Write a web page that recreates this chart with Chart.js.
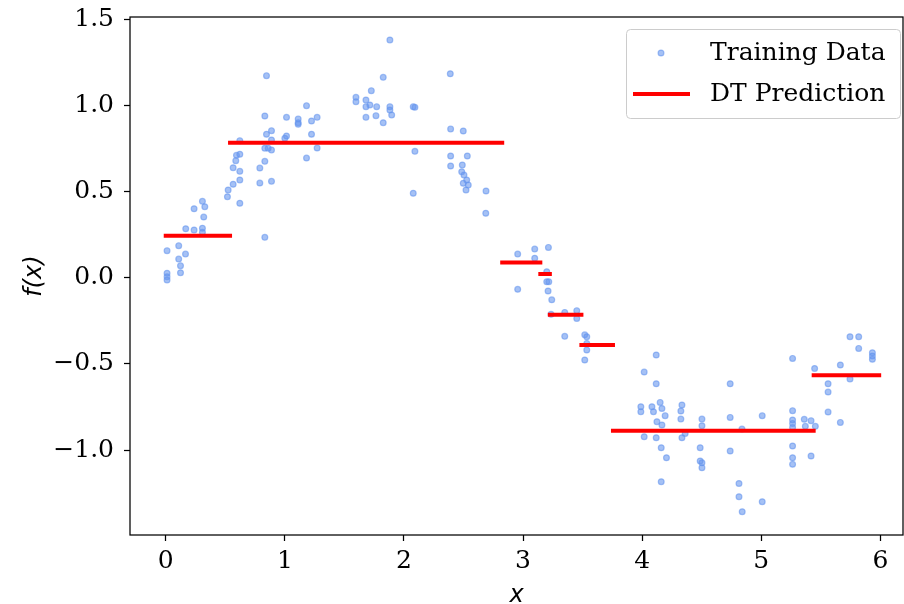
<!DOCTYPE html>
<html><head><meta charset="utf-8">
<script src="https://cdn.jsdelivr.net/npm/chart.js@4/dist/chart.umd.min.js"></script>
<style>html,body{margin:0;padding:0;background:#fff;overflow:hidden;} canvas{display:block;}</style>
</head><body>
<canvas id="c" width="904" height="604"></canvas>
<script>
// ---- data ----
const trainX = [
 0.011,0.011,0.011,0.011,0.109,0.109,0.124,0.124,0.166,0.168,0.238,0.238,0.308,0.308,0.308,0.328,0.319,
 0.518,0.524,0.566,0.622,0.622,0.566,0.588,0.594,0.622,0.622,0.622,
 0.790,0.790,0.832,0.832,0.860,0.888,0.888,0.888,0.846,0.832,0.846,0.888,0.832,
 1.000,1.014,1.014,1.112,1.112,1.112,1.182,1.224,1.271,1.224,1.271,1.182,
 1.597,1.597,1.681,1.681,1.714,1.771,1.681,1.765,1.826,1.726,1.826,1.882,1.882,1.882,1.897,
 2.078,2.092,2.092,2.078,
 2.389,2.392,2.498,2.392,2.532,2.392,2.490,2.485,2.504,2.527,2.498,2.540,2.521,2.689,2.687,
 2.955,3.098,3.213,3.098,2.955,3.199,3.199,3.216,3.210,3.241,3.235,3.350,3.451,3.451,3.350,
 3.518,3.535,3.535,3.535,3.518,
 4.017,4.118,4.118,3.989,3.989,4.082,4.095,4.151,4.166,4.124,4.193,4.166,4.334,4.325,4.325,
 4.017,4.118,4.334,4.361,4.160,4.204,4.160,4.502,4.502,4.487,4.487,4.502,4.502,
 4.739,4.739,4.739,4.838,4.813,4.813,4.840,5.008,5.008,
 5.263,5.263,5.263,5.263,5.263,5.361,5.418,5.454,5.370,5.263,5.263,5.263,5.418,
 5.448,5.561,5.561,5.561,5.664,5.664,5.745,5.745,5.818,5.818,5.933,5.933,5.933
];
const trainY = [
 0.026,0.006,-0.013,0.157,0.186,0.108,0.070,0.029,0.137,0.284,0.277,0.400,0.287,0.263,0.443,0.412,0.352,
 0.470,0.509,0.542,0.567,0.617,0.638,0.679,0.710,0.716,0.795,0.432,
 0.636,0.549,0.675,0.751,0.751,0.741,0.799,0.853,0.832,0.938,1.172,0.559,0.234,
 0.809,0.822,0.930,0.921,0.899,0.890,0.998,0.909,0.930,0.832,0.752,0.694,
 1.046,1.021,1.031,0.992,1.002,0.992,0.930,0.940,0.899,1.085,1.162,1.379,0.992,0.973,0.944,
 0.992,0.988,0.733,0.490,
 1.183,0.863,0.851,0.706,0.706,0.648,0.654,0.615,0.596,0.567,0.548,0.538,0.509,0.503,0.374,
 0.137,0.166,0.176,0.113,-0.067,0.035,-0.023,-0.023,-0.077,-0.128,-0.212,-0.201,-0.191,-0.236,-0.340,
 -0.331,-0.342,-0.381,-0.419,-0.477,
 -0.547,-0.448,-0.615,-0.748,-0.777,-0.748,-0.777,-0.723,-0.758,-0.835,-0.800,-0.854,-0.738,-0.773,-0.820,
 -0.922,-0.928,-0.928,-0.903,-0.986,-1.044,-1.183,-0.820,-0.858,-0.986,-1.063,-1.073,-1.102,
 -0.615,-0.810,-1.005,-0.878,-1.193,-1.270,-1.357,-0.800,-1.299,
 -0.468,-0.771,-0.825,-0.845,-0.868,-0.821,-0.829,-0.862,-0.862,-0.976,-1.044,-1.082,-1.034,
 -0.526,-0.615,-0.663,-0.779,-0.506,-0.839,-0.588,-0.342,-0.342,-0.410,-0.435,-0.454,-0.473
];
const segStart = [0.0, 0.54, 2.825, 3.145, 3.225, 3.49, 3.755, 5.44];
const segEnd   = [0.54, 2.825, 3.145, 3.225, 3.49, 3.755, 5.44, 5.99];
const segValue = [0.244, 0.783, 0.089, 0.021, -0.215, -0.390, -0.887, -0.565];
const xTicks = [0, 1, 2, 3, 4, 5, 6];
const yTicks = [-1.0, -0.5, 0.0, 0.5, 1.0, 1.5];
const seriesLabels = ['Training Data', 'DT Prediction'];

// ---- build ----
const scatterData = trainX.map((x, i) => ({x: x, y: trainY[i]}));
const lineData = [];
segStart.forEach((s, i) => {
  lineData.push({x: s, y: segValue[i]});
  lineData.push({x: segEnd[i], y: segValue[i]});
  lineData.push({x: segEnd[i], y: null});
});
const PT = 'rgba(100,149,237,0.58)';
const fmt = v => (v < 0 ? '\u2212' : '') + Math.abs(v).toFixed(1);

const framePlugin = {
  id: 'frame',
  afterDraw(chart) {
    const {ctx, chartArea: a} = chart;
    ctx.save();
    // legend box
    const lx = 626.5, ly = 29.5, lw = 274, lh = 89, r = 4;
    ctx.beginPath();
    ctx.moveTo(lx + r, ly);
    ctx.arcTo(lx + lw, ly, lx + lw, ly + lh, r);
    ctx.arcTo(lx + lw, ly + lh, lx, ly + lh, r);
    ctx.arcTo(lx, ly + lh, lx, ly, r);
    ctx.arcTo(lx, ly, lx + lw, ly, r);
    ctx.closePath();
    ctx.fillStyle = 'rgba(255,255,255,0.8)';
    ctx.fill();
    ctx.strokeStyle = '#cccccc';
    ctx.lineWidth = 1;
    ctx.stroke();
    // marker
    ctx.beginPath();
    ctx.arc(661, 53, 2.9, 0, Math.PI * 2);
    ctx.fillStyle = PT; ctx.fill();
    ctx.strokeStyle = PT; ctx.lineWidth = 1.2; ctx.stroke();
    // line
    ctx.beginPath();
    ctx.moveTo(635, 94); ctx.lineTo(688, 94);
    ctx.strokeStyle = '#ff0000'; ctx.lineWidth = 4; ctx.lineCap = 'square'; ctx.stroke();
    ctx.fillStyle = '#000';
    ctx.font = '25px "DejaVu Serif"';
    ctx.textBaseline = 'middle';
    ctx.textAlign = 'left';
    ctx.fillText(seriesLabels[0], 710, 53);
    ctx.fillText(seriesLabels[1], 710, 94);
    // spines
    ctx.strokeStyle = '#000';
    ctx.lineWidth = 1.25;
    ctx.lineCap = 'butt';
    ctx.strokeRect(a.left, a.top, a.right - a.left, a.bottom - a.top);
    ctx.restore();
  }
};

new Chart(document.getElementById('c'), {
  type: 'scatter',
  data: {
    datasets: [
      {
        label: seriesLabels[1], type: 'line', data: lineData, order: 1,
        borderColor: '#ff0000', borderWidth: 4, borderCapStyle: 'square',
        pointRadius: 0, spanGaps: false, fill: false, tension: 0
      },
      {
        label: seriesLabels[0], data: scatterData, order: 2,
        backgroundColor: PT, borderColor: PT, borderWidth: 1.2,
        pointRadius: 2.9, pointHoverRadius: 2.9
      }
    ]
  },
  options: {
    responsive: false, animation: false,
    layout: {autoPadding: false, padding: {top: 17, right: 1, left: 0, bottom: 0}},
    plugins: {legend: {display: false}, tooltip: {enabled: false}},
    scales: {
      x: {
        type: 'linear', min: -0.3, max: 6.19,
        afterBuildTicks: s => { s.ticks = xTicks.map(v => ({value: v})); },
        afterFit: s => { s.height = 69; s.paddingLeft = 0; s.paddingRight = 0; },
        grid: {display: true, drawOnChartArea: false, drawTicks: true, tickLength: 6, tickColor: '#000', tickWidth: 1.25},
        border: {display: false},
        ticks: {color: '#000', font: {family: 'DejaVu Serif', size: 25}, padding: 5, maxRotation: 0, autoSkip: false,
                callback: v => String(v)},
        title: {display: true, text: 'x', color: '#000',
                font: {family: 'DejaVu Sans', style: 'italic', size: 24, lineHeight: 1}, padding: {top: 0, bottom: -4}}
      },
      y: {
        type: 'linear', min: -1.492, max: 1.512,
        afterBuildTicks: s => { s.ticks = yTicks.map(v => ({value: v})); },
        afterFit: s => { s.width = 130; s.paddingTop = 0; s.paddingBottom = 0; },
        grid: {display: true, drawOnChartArea: false, drawTicks: true, tickLength: 6, tickColor: '#000', tickWidth: 1.25},
        border: {display: false},
        ticks: {color: '#000', font: {family: 'DejaVu Serif', size: 25}, padding: 10, autoSkip: false,
                callback: v => fmt(v)},
        title: {display: true, text: 'f(x)', color: '#000',
                font: {family: 'DejaVu Sans', style: 'italic', size: 24, lineHeight: 1}, padding: {top: 23, bottom: 0}}
      }
    }
  },
  plugins: [framePlugin]
});
</script>
</body></html>
